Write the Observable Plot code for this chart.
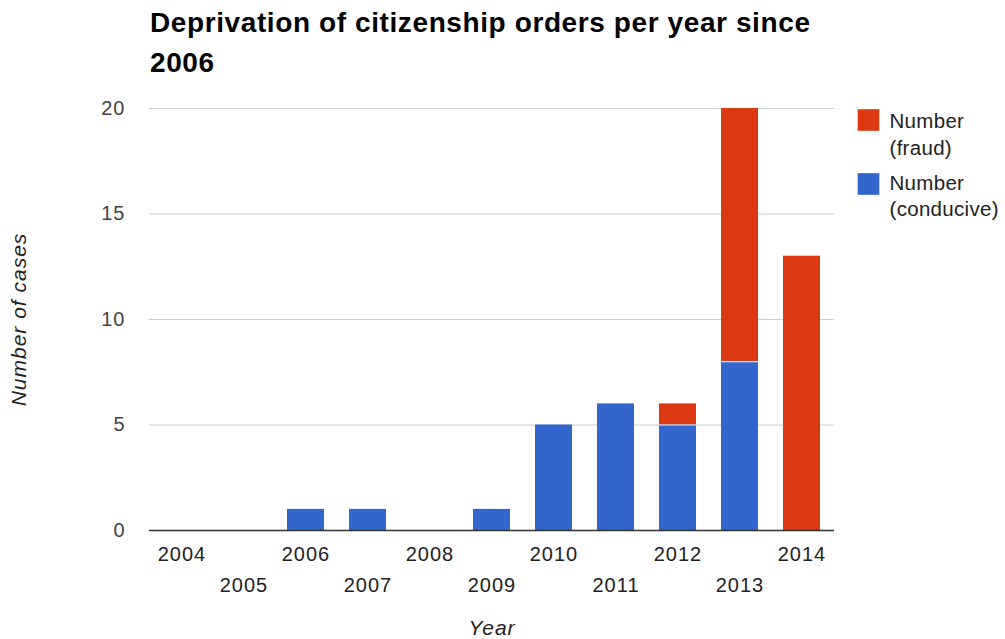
<!DOCTYPE html>
<html>
<head>
<meta charset="utf-8">
<script src="https://cdn.jsdelivr.net/npm/d3@7"></script>
<script src="https://cdn.jsdelivr.net/npm/@observablehq/plot@0.6"></script>
<style>
  body { margin: 0; background: #fff; }
  #wrap { width: 1005px; height: 639px; position: relative; overflow: hidden; background:#fff; }
  #title { box-sizing: border-box; height: 90px; margin: 0; padding: 3px 0 0 150px; width: 860px;
    font-family: "Liberation Sans", Arial, sans-serif; font-weight: bold; font-size: 28px; line-height: 40px; color: #000; letter-spacing: 0.6px; }
  #title span { display: block; width: 690px; }
  #chart svg text { letter-spacing: 1px; }
  #chart svg .legend text { letter-spacing: 0.3px; }
</style>
</head>
<body>
<div id="wrap">
  <div id="title"><span>Deprivation of citizenship orders per year since 2006</span></div>
  <div id="chart"></div>
</div>
<script>
const years = ["2004","2005","2006","2007","2008","2009","2010","2011","2012","2013","2014"];
const conducive = [0, 0, 1, 1, 0, 1, 5, 6, 5, 8, 0];
const fraud =     [0, 0, 0, 0, 0, 0, 0, 0, 1, 12, 13];
const yTicks = [0, 5, 10, 15, 20];
const seriesNames = ["Number (conducive)", "Number (fraud)"];
const colors = ["#3366cc", "#dc3912"];

const rows = [];
years.forEach((y, i) => {
  rows.push({year: y, type: seriesNames[0], value: conducive[i]});
  rows.push({year: y, type: seriesNames[1], value: fraud[i]});
});
const boundaries = years.map((y, i) => ({year: y, c: conducive[i], f: fraud[i]}))
  .filter(d => d.c > 0 && d.f > 0);

const evens = years.filter((d, i) => i % 2 === 0);
const odds = years.filter((d, i) => i % 2 === 1);
const font = "Liberation Sans, Arial, sans-serif";
const legendText = {frameAnchor: "top-right", dx: 55, textAnchor: "start", lineAnchor: "middle", fontSize: 20.5, fill: "#222", className: "legend"};

const chart = Plot.plot({
  width: 1005,
  height: 549,
  marginTop: 18,
  marginBottom: 109,
  marginLeft: 149,
  marginRight: 171,
  style: {fontFamily: font, background: "transparent", overflow: "visible"},
  x: {domain: years, paddingInner: 0.4, paddingOuter: 0.2, axis: null},
  y: {domain: [0, 20], axis: null},
  color: {domain: seriesNames, range: colors},
  marks: [
    Plot.gridY(yTicks, {stroke: "#cccccc", strokeOpacity: 1, strokeWidth: 1}),
    Plot.axisY(yTicks, {tickSize: 0, tickPadding: 24, fontSize: 20, fill: "#444", label: null}),
    Plot.barY(rows, {x: "year", y: "value", fill: "type"}),
    Plot.tickY(boundaries, {x: "year", y: "c", stroke: "#e8ecf5", strokeWidth: 1.2}),
    Plot.ruleY([0], {stroke: "#333", strokeWidth: 1.6}),
    Plot.text(evens, {x: d => d, frameAnchor: "bottom", dy: 24.5, fontSize: 20, fill: "#222", lineAnchor: "middle"}),
    Plot.text(odds, {x: d => d, frameAnchor: "bottom", dy: 55, fontSize: 20, fill: "#222", lineAnchor: "middle"}),
    Plot.text(["Year"], {frameAnchor: "bottom", dy: 98, fontSize: 21, fontStyle: "italic", fill: "#222", lineAnchor: "middle"}),
    Plot.text(["Number of cases"], {frameAnchor: "left", dx: -130, rotate: -90, fontSize: 21, fontStyle: "italic", fill: "#222", lineAnchor: "middle", textAnchor: "middle"}),
    // legend
    Plot.dot([seriesNames[1]], {frameAnchor: "top-right", dx: 34, dy: 11.5, symbol: "square", r: 12.2, fill: colors[1]}),
    Plot.dot([seriesNames[0]], {frameAnchor: "top-right", dx: 34, dy: 75.5, symbol: "square", r: 12.2, fill: colors[0]}),
    Plot.text(["Number"], {...legendText, dy: 12.5}),
    Plot.text(["(fraud)"], {...legendText, dy: 39.5}),
    Plot.text(["Number"], {...legendText, dy: 75.3}),
    Plot.text(["(conducive)"], {...legendText, dy: 101})
  ]
});
document.getElementById("chart").appendChild(chart);
</script>
</body>
</html>
